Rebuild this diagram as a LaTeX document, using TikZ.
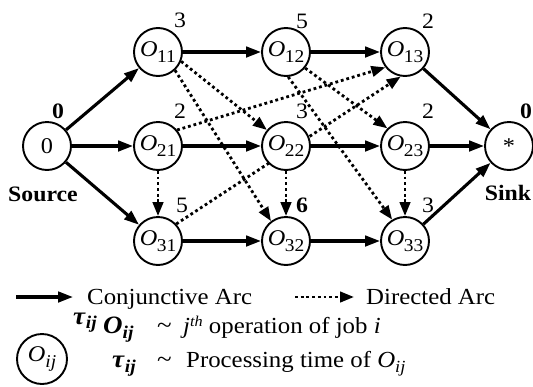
\documentclass[tikz,border=0pt]{standalone}
\usepackage{fontspec}
\setmainfont{Liberation Serif}[FakeStretch=1.08]
\usetikzlibrary{arrows.meta}
\pgfdeclarelayer{bg}
\pgfsetlayers{bg,main}
\newcommand{\Onm}[1]{\textit{O}\kern-0.5pt\raisebox{-6pt}{\fontsize{18}{18}\selectfont #1}}
\begin{document}
\begin{tikzpicture}[x=1pt,y=-1pt,
  every node/.style={inner sep=0pt},
  op/.style={circle, draw, line width=1.9pt, minimum size=48pt, fill=white, font=\fontsize{22.5}{22.5}\selectfont},
  conj/.style={line width=3.1pt, -{Triangle[length=15pt,width=10.5pt]}},
  dir/.style={line width=2.8pt, dash pattern=on 2.8pt off 2.9pt, -{Triangle[length=14pt,width=10.5pt]}},
  wt/.style={font=\fontsize{22}{22}\selectfont},
  bwt/.style={font=\fontsize{22}{22}\selectfont\bfseries},
  leg/.style={font=\fontsize{23}{23}\selectfont, anchor=base west}]
\useasboundingbox (0,0) rectangle (533,386);
% nodes
\node[op] (S) at (47,146) {0};
\node[op] (O11) at (158,52) {\Onm{11}};
\node[op] (O12) at (286,52) {\Onm{12}};
\node[op] (O13) at (405,52) {\Onm{13}};
\node[op] (O21) at (158,146) {\Onm{21}};
\node[op] (O22) at (286,146) {\Onm{22}};
\node[op] (O23) at (405,146) {\Onm{23}};
\node[op] (O31) at (158,241) {\Onm{31}};
\node[op] (O32) at (286,241) {\Onm{32}};
\node[op] (O33) at (405,241) {\Onm{33}};
\node[op] (T) at (509,146) {*};
% weights
\node[bwt] (w0) at (58,111) {0};
\node[wt] (w11) at (180,20) {3};
\node[wt] (w12) at (302,21) {5};
\node[wt] (w13) at (428,21) {2};
\node[wt] (w21) at (180,111) {2};
\node[wt] (w22) at (302,111) {3};
\node[wt] (w23) at (428,111) {2};
\node[bwt] (wT) at (526,111) {0};
\node[wt] (w31) at (182,205) {5};
\node[bwt] (w32) at (302,205) {6};
\node[wt] (w33) at (428,205) {3};
\node[bwt] (src) at (43,194) {Source};
\node[bwt] (snk) at (508,193) {Sink};
% dotted (directed) arcs behind the circles
\begin{pgfonlayer}{bg}
\draw[dir] (O11.-22) -- (O22.140);
\draw[dir] (O11.-47) -- (O32.127);
\draw[dir] (O21.40) -- (O13.218);
\draw[dir] (O21.-90) -- (O31.90);
\draw[dir] (O31.43) -- (O13.-100);
\draw[dir] (O12.-40) -- (O23.135);
\draw[dir] (O12.-85) -- (O33.121);
\draw[dir] (O22.-90) -- (O32.90);
\draw[dir] (O23.-90) -- (O33.90);
\end{pgfonlayer}
% conjunctive arcs
\draw[conj] (S) -- (O11);
\draw[conj] (S) -- (O21);
\draw[conj] (S) -- (O31);
\draw[conj] (O11) -- (O12);
\draw[conj] (O12) -- (O13);
\draw[conj] (O21) -- (O22);
\draw[conj] (O22) -- (O23);
\draw[conj] (O31) -- (O32);
\draw[conj] (O32) -- (O33);
\draw[conj] (O13) -- (T);
\draw[conj] (O23) -- (T);
\draw[conj] (O33) -- (T);
% legend
\coordinate (la1) at (16,297);
\coordinate (la2) at (73,297);
\draw[conj] (la1) -- (la2);
\node[leg] (lt1) at (87,304) {Conjunctive Arc};
\coordinate (lb1) at (295,297);
\coordinate (lb2) at (354,297);
\draw[dir] (lb1) -- (lb2);
\node[leg] (lt2) at (366,304) {Directed Arc};
\node[op, minimum size=50pt] (LO) at (42,359) {\textit{O}\raisebox{-6pt}{\fontsize{18}{18}\selectfont\textit{ij}}};
\node[leg] (tau1) at (73,324) {\fontsize{25}{25}\selectfont\textbf{\textit{τ}}\raisebox{-4pt}{\fontsize{18}{18}\selectfont\textbf{\textit{ij}}}};
\node[leg] (Oij) at (103,333) {\fontsize{25}{25}\selectfont\textbf{\textit{O}}\raisebox{-5pt}{\fontsize{18}{18}\selectfont\textbf{\textit{ij}}}};
\node[leg] (til1) at (157,333) {\fontsize{25}{25}\selectfont\char`\~};
\node[leg] (d1) at (183,333) {\textit{j}\raisebox{7pt}{\fontsize{15}{15}\selectfont\textit{th}} operation of job \textit{i}};
\node[leg] (tau2) at (112,367) {\fontsize{25}{25}\selectfont\textbf{\textit{τ}}\raisebox{-5pt}{\fontsize{18}{18}\selectfont\textbf{\textit{ij}}}};
\node[leg] (til2) at (157,367) {\fontsize{25}{25}\selectfont\char`\~};
\node[leg] (d2) at (186,367) {Processing time of \textit{O}\raisebox{-5pt}{\fontsize{17}{17}\selectfont\textit{ij}}};
\end{tikzpicture}
\end{document}
